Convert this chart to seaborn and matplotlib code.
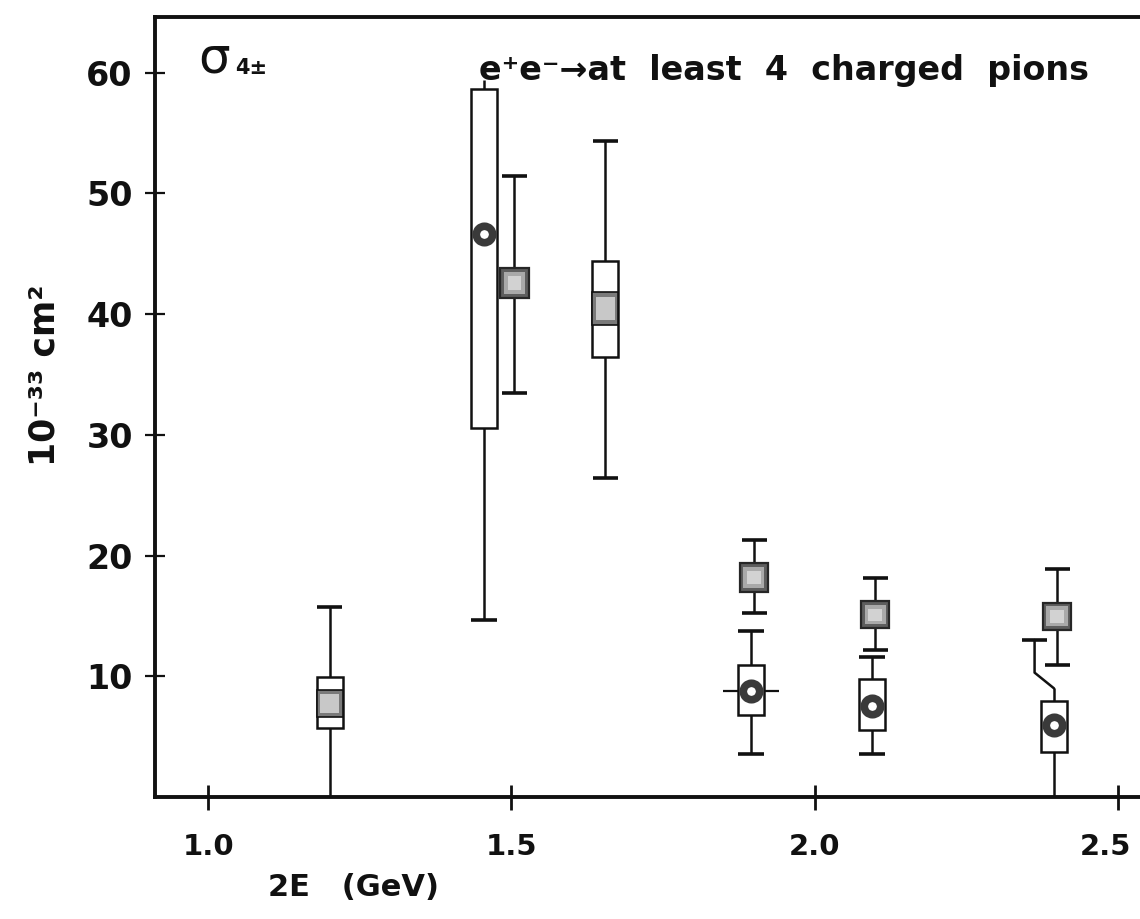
import numpy as np
import pandas as pd
import matplotlib
matplotlib.use("Agg")
import matplotlib.pyplot as plt
import matplotlib.transforms as mtransforms
import seaborn as sns

# ---------------- data ----------------
# filled (shaded) squares with error bars
sq_x = [1.505, 1.900, 2.100, 2.400]
sq_lo = [41.3, 17.0, 14.0, 13.8]
sq_hi = [43.8, 19.4, 16.2, 16.1]
sq_err_lo = [33.5, 15.2, 12.2, 10.9]
sq_err_hi = [51.4, 21.3, 18.1, 18.9]

# open boxes with whiskers
box_x = [1.200, 1.455, 1.655, 1.895, 2.095, 2.395]
box_lo = [5.7, 30.6, 36.4, 6.8, 5.55, 3.7]
box_hi = [9.9, 58.6, 44.4, 10.9, 9.8, 7.95]
box_err_lo = [0.0, 14.7, 26.4, 3.6, 3.6, 0.0]
box_err_hi = [15.7, 59.4, 54.3, 13.75, 11.6, 9.0]
box_cap_lo = [False, True, True, True, True, False]
box_cap_hi = [True, False, True, True, True, False]

# shaded band inside two of the boxes
band_x = [1.200, 1.655]
band_lo = [6.6, 39.1]
band_hi = [8.9, 41.8]

# ring (open circle) points
circ_x = [1.455, 1.895, 2.095, 2.395]
circ_y = [46.6, 8.8, 7.5, 6.0]
circ_xerr = [0.0, 0.046, 0.0, 0.0]

# displaced (bent) upper whisker of the 2.4 GeV box
bent_x = [2.395, 2.363, 2.363]
bent_y = [9.0, 10.3, 13.0]

x_ticks = [1.0, 1.5, 2.0, 2.5]
x_ticklabels = ["1.0", "1.5", "2.0", "2.5"]
y_ticks = [10, 20, 30, 40, 50, 60]
y_ticklabels = ["10", "20", "30", "40", "50", "60"]

# ---------------- plotting ----------------
sns.set_theme(style="white")
plt.rcParams["font.family"] = ["DejaVu Sans"]

fig = plt.figure(figsize=(11.4, 9.19), dpi=100)
ax = fig.add_axes([155 / 1140, 1 - 797 / 919, 999 / 1140, 780 / 919])
ax.set_xlim(0.912, 2.56)
ax.set_ylim(0, 64.6)

ink = "#111111"
cap = 0.021
bw = 0.043   # box width
sw = 0.047   # square width

# whiskers of the open boxes
ax.vlines(box_x, box_err_lo, box_lo, color=ink, lw=1.8, zorder=2)
ax.vlines(box_x, box_hi, box_err_hi, color=ink, lw=1.8, zorder=2)
for x, lo, hi, cl, ch in zip(box_x, box_err_lo, box_err_hi, box_cap_lo, box_cap_hi):
    if cl:
        ax.hlines(lo, x - cap, x + cap, color=ink, lw=2.6, zorder=2)
    if ch:
        ax.hlines(hi, x - cap, x + cap, color=ink, lw=2.6, zorder=2)
# bent whisker
ax.plot(bent_x, bent_y, color=ink, lw=1.8, zorder=2)
ax.hlines(bent_y[-1], bent_x[-1] - cap, bent_x[-1] + cap, color=ink, lw=2.6, zorder=2)

# horizontal error of the 1.9 GeV ring
ax.errorbar(circ_x, circ_y, xerr=circ_xerr, fmt="none", ecolor=ink, elinewidth=1.6,
            capsize=0, zorder=1)

# open boxes
ax.bar(box_x, np.array(box_hi) - np.array(box_lo), bottom=box_lo, width=bw,
       facecolor="white", edgecolor=ink, linewidth=1.8, zorder=3)
# shaded bands inside the boxes
band_h = np.array(band_hi) - np.array(band_lo)
ax.bar(band_x, band_h, bottom=band_lo, width=bw,
       facecolor="#7a7a7a", edgecolor=ink, linewidth=1.2, zorder=4)
ax.bar(band_x, band_h * 0.7, bottom=np.array(band_lo) + band_h * 0.15,
       width=bw * 0.75, facecolor="#c8c8c8", edgecolor="none", zorder=4)

# squares with error bars
sq_mid = (np.array(sq_lo) + np.array(sq_hi)) / 2
ax.errorbar(sq_x, sq_mid, yerr=[sq_mid - np.array(sq_err_lo), np.array(sq_err_hi) - sq_mid],
            fmt="none", ecolor=ink, elinewidth=1.8, capsize=9, capthick=2.6, zorder=2)
sq_h = np.array(sq_hi) - np.array(sq_lo)
ax.bar(sq_x, sq_h, bottom=sq_lo, width=sw,
       facecolor="#5e5e5e", edgecolor="#262626", linewidth=1.6, zorder=3)
ax.bar(sq_x, sq_h * 0.72, bottom=np.array(sq_lo) + sq_h * 0.14, width=sw * 0.74,
       facecolor="#a9a9a9", edgecolor="none", zorder=4)
ax.bar(sq_x, sq_h * 0.46, bottom=np.array(sq_lo) + sq_h * 0.27, width=sw * 0.48,
       facecolor="#d2d2d2", edgecolor="none", zorder=4)

# rings
df_c = pd.DataFrame({"x": circ_x, "y": circ_y})
sns.scatterplot(data=df_c, x="x", y="y", ax=ax, marker="o", s=140,
                facecolor="white", edgecolor="#3a3a3a", linewidth=5.5, zorder=6,
                legend=False)

# axes styling
for side in ["left", "bottom", "top"]:
    ax.spines[side].set_linewidth(2.8)
    ax.spines[side].set_color(ink)
ax.spines["right"].set_visible(False)

ax.set_xticks(x_ticks)
ax.set_xticklabels(x_ticklabels, fontsize=21, fontweight="bold")
ax.set_yticks(y_ticks)
ax.set_yticklabels(y_ticklabels, fontsize=24, fontweight="bold")
ax.tick_params(axis="x", direction="inout", length=18, width=2, pad=17, colors=ink,
               bottom=True)
ax.tick_params(axis="y", direction="inout", length=14, width=1.6, pad=9, colors=ink,
               left=True)
# last x label sits slightly left of its tick in the original
last = ax.get_xticklabels()[-1]
last.set_transform(last.get_transform() +
                   mtransforms.ScaledTranslation(-12 / 100, 0, fig.dpi_scale_trans))
ax.set_xlabel("")
ax.set_ylabel("")

# annotations
ax.text(0.983, 60.0, "σ", fontsize=36, color=ink, ha="left", va="baseline")
ax.text(1.045, 59.9, "4±", fontsize=15, fontweight="bold", color=ink, ha="left",
        va="baseline")
ax.text(1.447, 59.4, "e⁺e⁻→at  least  4  charged  pions", fontsize=24,
        fontweight="bold", color=ink, ha="left", va="baseline")

fig.text(45 / 1140, 1 - 375 / 919, "10⁻³³ cm²", rotation=90, fontsize=25,
         fontweight="bold", color=ink, ha="center", va="center")
fig.text(353 / 1140, 1 - 887 / 919, "2E   (GeV)", fontsize=22, fontweight="bold",
         color=ink, ha="center", va="center")

fig.savefig("out.png", dpi=100)
